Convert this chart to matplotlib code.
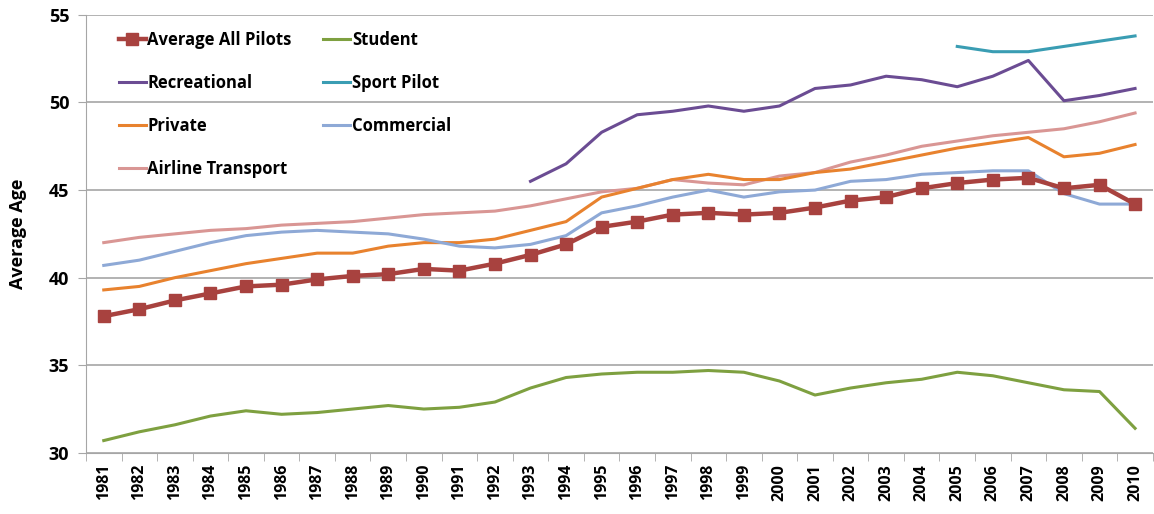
import matplotlib.pyplot as plt

years = list(range(1981, 2011))

avg_all = [37.8, 38.2, 38.7, 39.1, 39.5, 39.6, 39.9, 40.1, 40.2, 40.5,
           40.4, 40.8, 41.3, 41.9, 42.9, 43.2, 43.6, 43.7, 43.6, 43.7,
           44.0, 44.4, 44.6, 45.1, 45.4, 45.6, 45.7, 45.1, 45.3, 44.2]
student = [30.7, 31.2, 31.6, 32.1, 32.4, 32.2, 32.3, 32.5, 32.7, 32.5,
           32.6, 32.9, 33.7, 34.3, 34.5, 34.6, 34.6, 34.7, 34.6, 34.1,
           33.3, 33.7, 34.0, 34.2, 34.6, 34.4, 34.0, 33.6, 33.5, 31.4]
recreational_years = list(range(1993, 2011))
recreational = [45.5, 46.5, 48.3, 49.3, 49.5, 49.8, 49.5, 49.8, 50.8,
                51.0, 51.5, 51.3, 50.9, 51.5, 52.4, 50.1, 50.4, 50.8]
sport_years = list(range(2005, 2011))
sport = [53.2, 52.9, 52.9, 53.2, 53.5, 53.8]
private = [39.3, 39.5, 40.0, 40.4, 40.8, 41.1, 41.4, 41.4, 41.8, 42.0,
           42.0, 42.2, 42.7, 43.2, 44.6, 45.1, 45.6, 45.9, 45.6, 45.6,
           46.0, 46.2, 46.6, 47.0, 47.4, 47.7, 48.0, 46.9, 47.1, 47.6]
commercial = [40.7, 41.0, 41.5, 42.0, 42.4, 42.6, 42.7, 42.6, 42.5, 42.2,
              41.8, 41.7, 41.9, 42.4, 43.7, 44.1, 44.6, 45.0, 44.6, 44.9,
              45.0, 45.5, 45.6, 45.9, 46.0, 46.1, 46.1, 44.8, 44.2, 44.2]
airline = [42.0, 42.3, 42.5, 42.7, 42.8, 43.0, 43.1, 43.2, 43.4, 43.6,
           43.7, 43.8, 44.1, 44.5, 44.9, 45.1, 45.6, 45.4, 45.3, 45.8,
           46.0, 46.6, 47.0, 47.5, 47.8, 48.1, 48.3, 48.5, 48.9, 49.4]

plt.rcParams['font.family'] = ['Open Sans', 'DejaVu Sans']
plt.rcParams['font.weight'] = 'bold'

fig = plt.figure(figsize=(11.54, 5.14), dpi=100)
ax = fig.add_axes([0.0745, 0.119, 0.9245, 0.852])

# x positions are category indexes (Excel style)
def idx(yrs):
    return [y - years[0] for y in yrs]

lw = 2.2
h_avg, = ax.plot(idx(years), avg_all, color='#A8423F', lw=3.2, marker='s', ms=9,
                 label='Average All Pilots', zorder=5)
h_stu, = ax.plot(idx(years), student, color='#7EA040', lw=lw, label='Student')
h_rec, = ax.plot(idx(recreational_years), recreational, color='#6B4C93', lw=lw, label='Recreational')
h_spo, = ax.plot(idx(sport_years), sport, color='#3A9DB3', lw=lw, label='Sport Pilot')
h_pri, = ax.plot(idx(years), private, color='#E8822E', lw=lw, label='Private')
h_com, = ax.plot(idx(years), commercial, color='#8EA9D6', lw=lw, label='Commercial')
h_air, = ax.plot(idx(years), airline, color='#D99694', lw=lw, label='Airline Transport', zorder=1)

ax.set_xlim(-0.5, len(years) - 0.5)
ax.set_ylim(30, 55)
ax.set_yticks([30, 35, 40, 45, 50, 55])
ax.yaxis.grid(True, color='#A6A6A6', lw=1.2)
ax.set_axisbelow(True)

ax.set_xticks(range(len(years)))
ax.set_xticklabels([str(y) for y in years], rotation=90, fontsize=11.5, fontweight='bold')
ax.set_xticks([i - 0.5 for i in range(len(years) + 1)], minor=True)
ax.tick_params(axis='x', which='major', length=0, pad=8)
ax.tick_params(axis='x', which='minor', length=6, color='#A6A6A6', direction='out')
ax.tick_params(axis='y', length=6, color='#A6A6A6', labelsize=13, pad=6)

for s in ['top', 'right']:
    ax.spines[s].set_visible(False)
ax.spines['left'].set_color('#A6A6A6')
ax.spines['bottom'].set_color('#A6A6A6')

ax.set_ylabel('Average Age', fontsize=13, fontweight='bold', labelpad=16)

# legend is filled column by column, so order handles to read row by row
handles = [h_avg, h_rec, h_pri, h_air, h_stu, h_spo, h_com]
ax.legend(handles=handles, labels=[h.get_label() for h in handles],
          loc='upper left', ncol=2, frameon=False,
          prop={'weight': 'bold', 'size': 12},
          handlelength=1.6, handletextpad=0.1, columnspacing=1.9,
          labelspacing=1.5, bbox_to_anchor=(0.017, 0.997),
          markerscale=0.9)

fig.savefig('out.png', dpi=100)
